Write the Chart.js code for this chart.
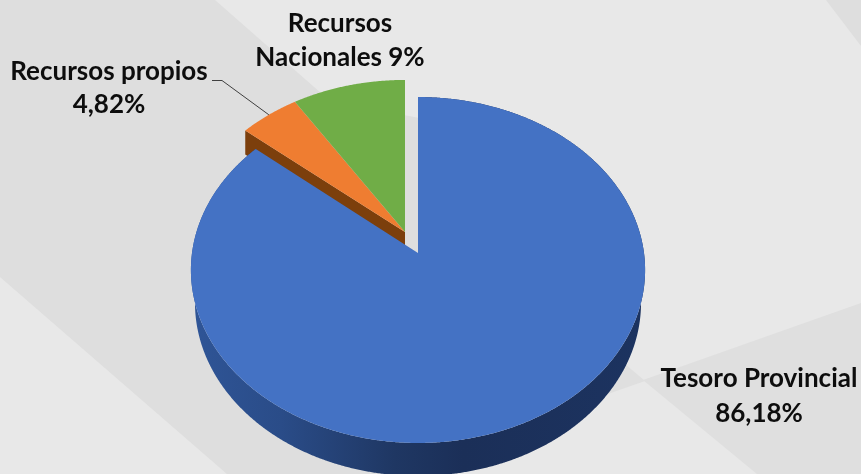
<!DOCTYPE html>
<html><head><meta charset="utf-8">
<style>html,body{margin:0;padding:0;background:#e8e8e8;overflow:hidden}canvas{display:block}</style>
<script src="https://cdn.jsdelivr.net/npm/chart.js@4"></script>
</head><body><canvas id="c" width="861" height="474"></canvas>
<script>
const categories = ["Tesoro Provincial", "Recursos propios", "Recursos Nacionales"];
const shares = [86.18, 4.82, 9];
const colors = ["#4472c4", "#ef7d31", "#70ad47"];
const labelLines = [["Tesoro Provincial", "86,18%"], ["Recursos propios", "4,82%"], ["Recursos", "Nacionales 9%"]];

const bgShapes = [
  ["#dedede", [[0,0],[215,0],[330,101],[430,120],[430,474],[227,474],[0,277]]],
  ["#dfdfdf", [[861,303],[643,380],[757,474],[861,474]]],
  ["#dfdfdf", [[625,364],[645,381],[608,394]]],
  ["#dedede", [[826,0],[861,0],[861,46]]]
];
// perspective frames of the pie's top face (slice index -> frame)
const frames = [
  {x:418, y:253, a:226, b:171.3, p:0.0983, depth:33, wallScale:0.982},
  {x:405, y:232, a:222.6, b:167, p:0.0983, depth:24, wallScale:1},
  {x:405, y:232, a:222.6, b:167, p:0.0983, depth:24, wallScale:1}
];
function proj(f, ang, r, dy, sx) {
  const u = Math.cos(ang)*r, v = Math.sin(ang)*r, d = 1 - f.p*v;
  return [f.x + (sx||1)*f.a*u/d, f.y + f.b*v/d + (dy||0)];
}
function rimPts(f, s, e, dy, sx) {
  const out = [], n = Math.ceil((e-s)/0.005);
  for (let i=0;i<=n;i++) out.push(proj(f, s+(e-s)*i/n, 1, dy, sx));
  return out;
}
function fillPoly(ctx, pts, style) {
  ctx.beginPath();
  pts.forEach((p,i)=> i?ctx.lineTo(p[0],p[1]):ctx.moveTo(p[0],p[1]));
  ctx.closePath(); ctx.fillStyle = style; ctx.fill();
}
const pie3d = {
  id:'pie3d',
  beforeDraw(chart){
    const ctx = chart.ctx;
    ctx.save();
    ctx.fillStyle = '#e8e8e8'; ctx.fillRect(0,0,chart.width,chart.height);
    bgShapes.forEach(s=>fillPoly(ctx,s[1],s[0]));
    ctx.restore();
  },
  beforeDatasetDraw(chart){
    const ctx = chart.ctx, arcs = chart.getDatasetMeta(0).data;
    const slice = i => {
      const p = arcs[i].getProps(['startAngle','endAngle'], true);
      return [frames[i], p.startAngle, p.endAngle];
    };
    ctx.save();
    // orange cut wall, then orange and green tops
    {
      const [f,s] = slice(1);
      fillPoly(ctx,[proj(f,s,1),[f.x,f.y],[f.x,f.y+f.depth],proj(f,s,1,f.depth)],'#7c3f0c');
    }
    [1,2].forEach(i=>{
      const [f,s,e] = slice(i);
      fillPoly(ctx,[[f.x,f.y]].concat(rimPts(f,s,e)),arcs[i].options.backgroundColor);
    });
    // blue wall and top
    {
      const [f,s,e] = slice(0);
      const g = ctx.createLinearGradient(190,0,645,0);
      g.addColorStop(0,'#2f5597'); g.addColorStop(0.2,'#2a4c88');
      g.addColorStop(0.45,'#1f3763'); g.addColorStop(0.6,'#1b2f58');
      g.addColorStop(1,'#1c3360');
      fillPoly(ctx,rimPts(f,s,e).concat(rimPts(f,s,e,f.depth,f.wallScale).reverse()),g);
      fillPoly(ctx,[[f.x,f.y]].concat(rimPts(f,s,e)),arcs[0].options.backgroundColor);
    }
    // leader line of the small slice
    const fo = frames[1];
    const a = arcs[1].getProps(['startAngle','endAngle'], true);
    const m = proj(fo,(a.startAngle+a.endAngle)/2,1);
    ctx.beginPath(); ctx.moveTo(212,80.5); ctx.lineTo(222,80.5); ctx.lineTo(m[0],m[1]);
    ctx.strokeStyle='#404040'; ctx.lineWidth=1; ctx.stroke();
    // labels
    ctx.font='bold 26px Lato'; ctx.fillStyle='#0d0d0d'; ctx.textAlign='center'; ctx.textBaseline='middle';
    const pos=[[759,379,414],[109,72,105],[340,24,58]];
    labelLines.forEach((ls,i)=>{ ctx.fillText(ls[0],pos[i][0],pos[i][1]); ctx.fillText(ls[1],pos[i][0],pos[i][2]); });
    ctx.restore();
    return false;
  }
};
document.fonts.load('bold 26px Lato').finally(()=>{
new Chart(document.getElementById('c'),{
  type:'pie',
  data:{labels:categories,datasets:[{data:shares,backgroundColor:colors,borderWidth:0}]},
  options:{responsive:false,animation:false,events:[],
    plugins:{legend:{display:false},tooltip:{enabled:false}}},
  plugins:[pie3d]
});
});
</script></body></html>
